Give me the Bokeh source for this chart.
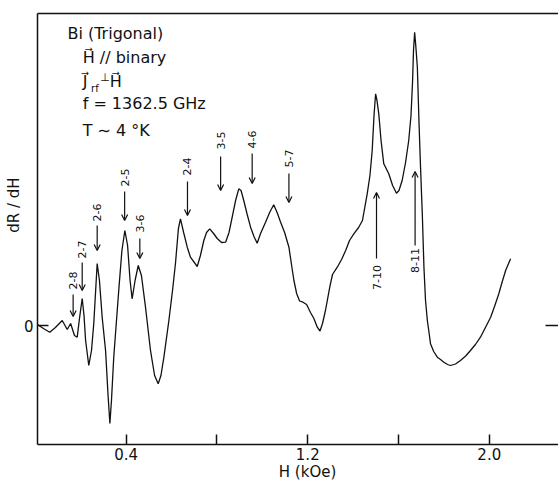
from bokeh.plotting import figure
from bokeh.models import (Range1d, FixedTicker, LinearAxis, Label, Arrow, OpenHead,
                          ColumnDataSource, LabelSet)
from bokeh.embed import file_html
from bokeh.resources import INLINE
from bokeh.core.properties import value

# ---- data (H in kOe, dR/dH in arbitrary units) ----
H = [0.009, 0.035, 0.063, 0.088, 0.118, 0.140, 0.155, 0.172, 0.184, 0.194,
     0.206, 0.214, 0.221, 0.235, 0.247, 0.257, 0.272, 0.282, 0.294, 0.309,
     0.320, 0.328, 0.335, 0.345, 0.367, 0.381, 0.394, 0.406, 0.417, 0.426,
     0.439, 0.453, 0.467, 0.485, 0.507, 0.525, 0.541, 0.553, 0.566, 0.588,
     0.604, 0.617, 0.630, 0.639, 0.653, 0.669, 0.683, 0.713, 0.727, 0.742,
     0.754, 0.768, 0.785, 0.801, 0.820, 0.838, 0.853, 0.867, 0.882, 0.896,
     0.906, 0.918, 0.932, 0.948, 0.963, 0.977, 0.992, 1.014, 1.032, 1.050,
     1.065, 1.080, 1.098, 1.117, 1.129, 1.139, 1.151, 1.164, 1.179, 1.195,
     1.212, 1.227, 1.242, 1.254, 1.265, 1.278, 1.297, 1.309, 1.330, 1.349,
     1.367, 1.384, 1.403, 1.424, 1.441, 1.462, 1.474, 1.484, 1.492, 1.499,
     1.505, 1.513, 1.523, 1.535, 1.557, 1.574, 1.591, 1.602, 1.616, 1.631,
     1.645, 1.655, 1.662, 1.666, 1.671, 1.676, 1.683, 1.690, 1.697, 1.705,
     1.712, 1.719, 1.727, 1.735, 1.741, 1.755, 1.771, 1.785, 1.800, 1.816,
     1.829, 1.851, 1.873, 1.896, 1.917, 1.939, 1.961, 1.983, 2.006, 2.023,
     2.042, 2.056, 2.072, 2.083, 2.094]
dRdH = [0.1, -0.3, -0.67, -0.2, 0.5, -0.4, 0.2, -1.0, -1.17, 0.7,
        2.7, 1.0, -1.5, -4.0, -2.5, 0.2, 6.2, 4.5, 0.83, -2.5,
        -7.0, -9.8, -7.5, -3.17, 3.5, 7.5, 9.5, 8.0, 4.5, 2.67,
        4.5, 6.0, 5.0, 1.83, -2.5, -5.0, -5.83, -5.0, -3.17, 0.5,
        3.5, 6.2, 9.7, 10.67, 9.3, 7.83, 6.83, 5.9, 7.0, 8.5,
        9.3, 9.67, 9.2, 8.7, 8.3, 8.33, 9.3, 10.83, 12.5, 13.67,
        13.5, 12.5, 11.2, 9.83, 8.9, 8.23, 9.2, 10.33, 11.3, 12.07,
        11.3, 10.35, 9.3, 7.83, 6.0, 4.5, 3.2, 2.45, 2.33, 2.1,
        1.3, 0.7, -0.17, -0.55, 0.2, 1.5, 3.83, 5.1, 5.83, 6.6,
        7.5, 8.5, 9.17, 9.8, 10.5, 13.17, 15.0, 17.5, 21.0, 23.17,
        22.5, 21.17, 18.5, 16.17, 15.17, 14.0, 13.23, 13.5, 14.5, 16.3,
        18.5, 21.0, 24.5, 27.5, 29.33, 28.0, 25.83, 20.5, 15.83, 11.0,
        5.83, 2.5, 0.5, -0.8, -1.83, -2.6, -3.17, -3.4, -3.67, -3.9,
        -4.0, -3.85, -3.5, -3.05, -2.5, -1.9, -1.17, -0.2, 0.83, 1.9,
        3.17, 4.3, 5.5, 6.1, 6.67]

trans_labels = ["2-8", "2-7", "2-6", "2-5", "3-6", "2-4", "3-5", "4-6", "5-7", "7-10", "8-11"]
trans_H = [0.166, 0.206, 0.272, 0.393, 0.460, 0.670, 0.816, 0.955, 1.117, 1.503, 1.673]
arrow_tip = [0.9, 3.5, 7.5, 10.5, 6.7, 11.0, 13.5, 14.2, 12.3, 13.3, 15.4]
arrow_tail = [3.1, 6.3, 10.0, 13.4, 8.7, 14.4, 16.9, 17.2, 15.2, 6.7, 8.0]
label_y = [4.5, 7.6, 11.3, 14.8, 10.2, 15.9, 18.5, 18.6, 16.7, 4.8, 6.5]

x_ticks = [0.4, 0.8, 1.2, 1.6, 2.0]
x_tick_labels = ["0.4", "", "1.2", "", "2.0"]
y_ticks = [0]
y_tick_labels = ["0"]

FONT = "DejaVu Sans"

p = figure(width=558, height=483,
           x_range=Range1d(0.009, 2.305), y_range=Range1d(-11.9, 31.2),
           output_backend="svg", toolbar_location=None,
           x_axis_location=None, y_axis_location=None,
           min_border_left=37, min_border_right=0, min_border_top=13, min_border_bottom=39)
p.grid.visible = False
p.outline_line_color = None
p.background_fill_color = "white"
p.border_fill_color = "white"

def style_axis(ax):
    ax.axis_line_color = "#111111"
    ax.axis_line_width = 1.5
    ax.major_tick_line_color = "#111111"
    ax.major_tick_line_width = 1.5
    ax.minor_tick_line_color = None
    ax.major_label_text_font = FONT
    ax.major_label_text_color = "#111111"
    ax.axis_label_text_font = FONT
    ax.axis_label_text_font_style = "normal"
    ax.axis_label_text_font_size = "15px"
    ax.axis_label_text_color = "#111111"

xa = LinearAxis(ticker=FixedTicker(ticks=x_ticks),
                major_label_overrides={t: s for t, s in zip(x_ticks, x_tick_labels)},
                axis_label="\u00a0" * 4 + "H (kOe)")
style_axis(xa)
xa.major_tick_in = 10
xa.major_tick_out = 0
xa.major_label_text_font_size = "15px"
xa.major_label_standoff = 3
xa.axis_label_standoff = 0
p.add_layout(xa, "below")

ya = LinearAxis(ticker=FixedTicker(ticks=y_ticks),
                major_label_overrides={t: s for t, s in zip(y_ticks, y_tick_labels)},
                axis_label="\u00a0" * 10 + "dR / dH")
style_axis(ya)
ya.major_tick_in = 11
ya.major_tick_out = 0
ya.major_label_text_font_size = "15px"
ya.major_label_standoff = 4
ya.axis_label_standoff = -2
p.add_layout(ya, "left")

ta = LinearAxis(ticker=FixedTicker(ticks=[]))
style_axis(ta)
ta.major_tick_in = 0
ta.major_tick_out = 0
ta.major_label_standoff = 0
ta.major_label_text_font_size = "0px"
p.add_layout(ta, "above")

ra = LinearAxis(ticker=FixedTicker(ticks=y_ticks),
                major_label_overrides={t: "" for t in y_ticks})
style_axis(ra)
ra.axis_line_color = None
ra.major_tick_in = 13
ra.major_tick_out = 0
ra.major_label_standoff = 0
ra.major_label_text_font_size = "0px"
p.add_layout(ra, "right")

# curve
p.line(H, dRdH, line_color="#111111", line_width=1.3)

# transition arrows and labels
src = ColumnDataSource(dict(x=trans_H, tip=arrow_tip, tail=arrow_tail, ly=label_y, txt=trans_labels))
p.add_layout(Arrow(source=src, x_start="x", y_start="tail", x_end="x", y_end="tip",
                   line_color="#111111", line_width=1.2,
                   end=OpenHead(size=6, line_color="#111111", line_width=1.2)))
p.add_layout(LabelSet(source=src, x="x", y="ly", text="txt", angle=1.5708,
                      text_align="center", text_baseline="middle",
                      text_font=value(FONT), text_font_size="11px", text_color="#111111"))

# text block
def lab(x, y, t, size="16px"):
    p.add_layout(Label(x=x, y=y, text=t, text_font=FONT, text_font_size=size,
                       text_color="#111111", text_baseline="middle", text_align="left"))

lab(0.141, 29.2, "Bi (Trigonal)")
lab(0.208, 26.8, "H\u20D7 // binary")
lab(0.208, 24.4, "J\u20D7")
lab(0.245, 23.7, "rf", "10px")
lab(0.285, 24.8, "\u22A5", "11px")
lab(0.327, 24.4, "H\u20D7")
lab(0.208, 22.2, "f = 1362.5 GHz")
lab(0.208, 19.5, "T \u223C 4 \u00B0K")

open("out.html", "w").write(file_html(p, INLINE))
